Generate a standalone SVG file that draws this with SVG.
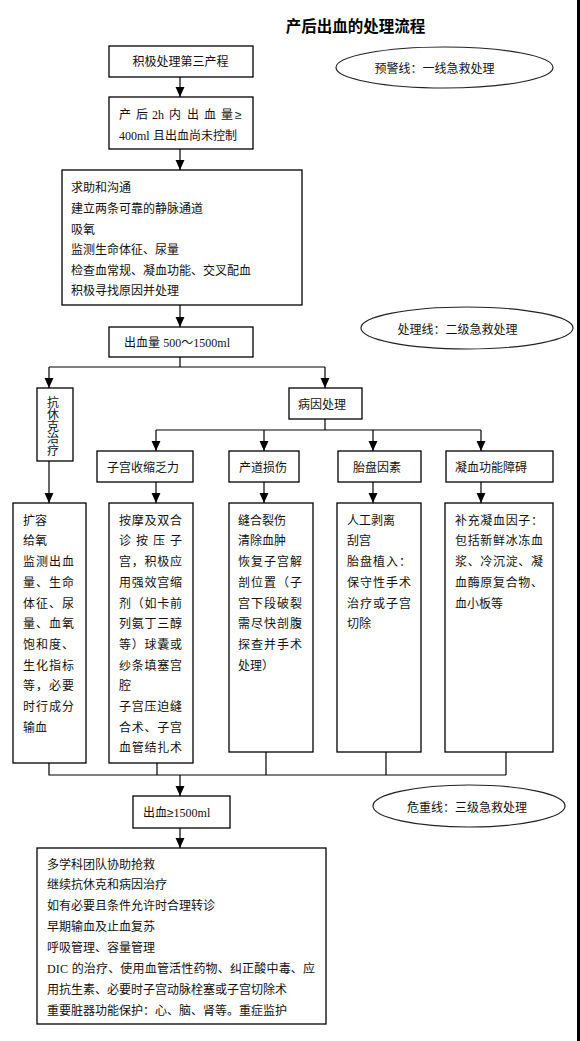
<svg xmlns="http://www.w3.org/2000/svg" width="580" height="1041" viewBox="0 0 580 1041">
<style>
.b{fill:#fff;stroke:#000;stroke-width:1.3}
.e{fill:#fff;stroke:#222;stroke-width:1.2}
.t{font-family:"Liberation Sans","Noto Sans CJK SC",sans-serif;font-size:12px;fill:#111}
.s{font-family:"Liberation Serif","Noto Sans CJK SC",serif}
.ti{font-family:"Noto Sans CJK SC",sans-serif;font-size:15.5px;font-weight:bold;fill:#000}
.c{fill:none;stroke:#000;stroke-width:1.2}
.a{fill:none;stroke:#000;stroke-width:1.2;marker-end:url(#ar)}
</style>
<defs>
<marker id="ar" markerUnits="userSpaceOnUse" markerWidth="10" markerHeight="10" refX="4" refY="9" orient="0" viewBox="0 0 8 9">
<path d="M0,0 L8,0 L4,9 Z" fill="#000"/>
</marker>
</defs>
<rect x="0" y="0" width="580" height="1041" fill="#fff"/>
<rect x="577" y="0" width="3" height="1041" fill="#000"/>
<text class="ti" x="355.5" y="32" text-anchor="middle">产后出血的处理流程</text>

<g id="connectors">
<line class="a" x1="180" y1="77" x2="180" y2="97"/>
<line class="a" x1="180" y1="149" x2="180" y2="170"/>
<line class="a" x1="180" y1="305" x2="180" y2="327"/>
<polyline class="c" points="180,357 180,367"/>
<polyline class="c" points="49,367 325,367"/>
<line class="a" x1="49" y1="367" x2="49" y2="388"/>
<line class="a" x1="325" y1="367" x2="325" y2="388"/>
<polyline class="c" points="325,419 325,430"/>
<polyline class="c" points="156,430 481,430"/>
<line class="a" x1="156" y1="430" x2="156" y2="451"/>
<line class="a" x1="264" y1="430" x2="264" y2="451"/>
<line class="a" x1="373" y1="430" x2="373" y2="451"/>
<line class="a" x1="481" y1="430" x2="481" y2="451"/>
<line class="a" x1="49" y1="461" x2="49" y2="503"/>
<line class="a" x1="156" y1="482" x2="156" y2="503"/>
<line class="a" x1="264" y1="482" x2="264" y2="503"/>
<line class="a" x1="373" y1="482" x2="373" y2="503"/>
<line class="a" x1="481" y1="482" x2="481" y2="503"/>
<polyline class="c" points="49,763 49,775 506,775"/>
<polyline class="c" points="157,763 157,775"/>
<polyline class="c" points="266,752 266,775"/>
<polyline class="c" points="386,752 386,775"/>
<polyline class="c" points="506,752 506,775"/>
<line class="a" x1="180" y1="775" x2="180" y2="796"/>
<line class="a" x1="180" y1="828" x2="180" y2="848"/>
</g>

<g id="n1"><rect class="b" x="109" y="46" width="144" height="31"/>
<text class="t" x="180.5" y="66" text-anchor="middle" font-size="12.5">积极处理第三产程</text></g>

<g id="e1"><ellipse class="e" cx="444.5" cy="67.5" rx="108.5" ry="20.5"/>
<text class="t" x="434.5" y="72.5" text-anchor="middle">预警线：一线急救处理</text></g>

<g id="n2"><rect class="b" x="109" y="97" width="144" height="52"/>
<text class="t" y="119" font-size="12.5"><tspan x="119">产</tspan><tspan x="136">后</tspan><tspan class="s" x="152">2h</tspan><tspan x="169">内</tspan><tspan x="187">出</tspan><tspan x="204">血</tspan><tspan x="221">量</tspan><tspan x="235">≥</tspan></text>
<text class="t" x="119" y="140" font-size="12.5"><tspan class="s">400ml</tspan> 且出血尚未控制</text></g>

<g id="n3"><rect class="b" x="62" y="170" width="240" height="135"/>
<text class="t" x="71" y="191.5">求助和沟通</text>
<text class="t" x="71" y="212.5">建立两条可靠的静脉通道</text>
<text class="t" x="71" y="233.5">吸氧</text>
<text class="t" x="71" y="253.5">监测生命体征、尿量</text>
<text class="t" x="71" y="274.5">检查血常规、凝血功能、交叉配血</text>
<text class="t" x="71" y="294.5">积极寻找原因并处理</text></g>

<g id="n4"><rect class="b" x="109" y="327" width="144" height="30"/>
<text class="t" x="124" y="347" font-size="12.5">出血量 <tspan class="s">500～1500ml</tspan></text></g>

<g id="e2"><ellipse class="e" cx="467" cy="328" rx="106" ry="21"/>
<text class="t" x="457.5" y="333.5" text-anchor="middle">处理线：二级急救处理</text></g>

<g id="n5"><rect class="b" x="37" y="388" width="36" height="73"/>
<text class="t" x="53" y="407" text-anchor="middle" font-size="11.5">抗</text>
<text class="t" x="53" y="419" text-anchor="middle" font-size="11.5">休</text>
<text class="t" x="53" y="431" text-anchor="middle" font-size="11.5">克</text>
<text class="t" x="53" y="443" text-anchor="middle" font-size="11.5">治</text>
<text class="t" x="53" y="455" text-anchor="middle" font-size="11.5">疗</text></g>

<g id="n6"><rect class="b" x="289" y="388" width="73" height="31"/>
<text class="t" x="298" y="408.5">病因处理</text></g>

<g id="n7"><rect class="b" x="97" y="451" width="96" height="31"/>
<text class="t" x="107" y="471.5">子宫收缩乏力</text></g>
<g id="n8"><rect class="b" x="229" y="451" width="70" height="31"/>
<text class="t" x="239" y="471.5">产道损伤</text></g>
<g id="n9"><rect class="b" x="338" y="451" width="83" height="31"/>
<text class="t" x="353" y="471.5">胎盘因素</text></g>
<g id="n10"><rect class="b" x="446" y="451" width="107" height="31"/>
<text class="t" x="455" y="471.5">凝血功能障碍</text></g>

<g id="c1"><rect class="b" x="13" y="503" width="73" height="260"/>
<text class="t" x="23" y="524.7" font-size="12.7">扩容</text>
<text class="t" x="23" y="545.4" font-size="12.7">给氧</text>
<text class="t" x="23" y="566.1" font-size="12.7" textLength="51">监测出血</text>
<text class="t" x="23" y="586.8" font-size="12.7" textLength="51">量、生命</text>
<text class="t" x="23" y="607.5" font-size="12.7" textLength="51">体征、尿</text>
<text class="t" x="23" y="628.2" font-size="12.7" textLength="51">量、血氧</text>
<text class="t" x="23" y="648.9" font-size="12.7" textLength="51">饱和度、</text>
<text class="t" x="23" y="669.6" font-size="12.7" textLength="51">生化指标</text>
<text class="t" x="23" y="690.3" font-size="12.7" textLength="51">等，必要</text>
<text class="t" x="23" y="711.0" font-size="12.7" textLength="51">时行成分</text>
<text class="t" x="23" y="731.7" font-size="12.7">输血</text></g>

<g id="c2"><rect class="b" x="109" y="503" width="84" height="260"/>
<text class="t" x="119" y="524.7" font-size="12.7" textLength="63">按摩及双合</text>
<text class="t" x="119" y="545.4" font-size="12.7" textLength="63">诊 按 压 子</text>
<text class="t" x="119" y="566.1" font-size="12.7" textLength="63">宫，积极应</text>
<text class="t" x="119" y="586.8" font-size="12.7" textLength="63">用强效宫缩</text>
<text class="t" x="119" y="607.5" font-size="12.7" textLength="63">剂（如卡前</text>
<text class="t" x="119" y="628.2" font-size="12.7" textLength="63">列氨丁三醇</text>
<text class="t" x="119" y="648.9" font-size="12.7" textLength="63">等）球囊或</text>
<text class="t" x="119" y="669.6" font-size="12.7" textLength="63">纱条填塞宫</text>
<text class="t" x="119" y="690.3" font-size="12.7">腔</text>
<text class="t" x="119" y="711.0" font-size="12.7" textLength="63">子宫压迫缝</text>
<text class="t" x="119" y="731.7" font-size="12.7" textLength="63">合术、子宫</text>
<text class="t" x="119" y="752.4" font-size="12.7" textLength="63">血管结扎术</text></g>

<g id="c3"><rect class="b" x="229" y="503" width="84" height="249"/>
<text class="t" x="238" y="524.7" font-size="12.7">缝合裂伤</text>
<text class="t" x="238" y="545.4" font-size="12.7">清除血肿</text>
<text class="t" x="238" y="566.1" font-size="12.7" textLength="64">恢复子宫解</text>
<text class="t" x="238" y="586.8" font-size="12.7" textLength="64">剖位置（子</text>
<text class="t" x="238" y="607.5" font-size="12.7" textLength="64">宫下段破裂</text>
<text class="t" x="238" y="628.2" font-size="12.7" textLength="64">需尽快剖腹</text>
<text class="t" x="238" y="648.9" font-size="12.7" textLength="64">探查并手术</text>
<text class="t" x="238" y="669.6" font-size="12.7">处理）</text></g>

<g id="c4"><rect class="b" x="337" y="503" width="84" height="249"/>
<text class="t" x="347" y="524.7" font-size="12.7">人工剥离</text>
<text class="t" x="347" y="545.4" font-size="12.7">刮宫</text>
<text class="t" x="347" y="566.1" font-size="12.7" textLength="64">胎盘植入：</text>
<text class="t" x="347" y="586.8" font-size="12.7" textLength="64">保守性手术</text>
<text class="t" x="347" y="607.5" font-size="12.7" textLength="64">治疗或子宫</text>
<text class="t" x="347" y="628.2" font-size="12.7">切除</text></g>

<g id="c5"><rect class="b" x="445" y="503" width="108" height="249"/>
<text class="t" x="455" y="524.7" font-size="12.5" textLength="88">补充凝血因子：</text>
<text class="t" x="455" y="545.4" font-size="12.5" textLength="88">包括新鲜冰冻血</text>
<text class="t" x="455" y="566.1" font-size="12.5" textLength="88">浆、冷沉淀、凝</text>
<text class="t" x="455" y="586.8" font-size="12.5" textLength="88">血酶原复合物、</text>
<text class="t" x="455" y="607.5" font-size="12.5">血小板等</text></g>

<g id="n11"><rect class="b" x="133" y="796" width="97" height="32"/>
<text class="t" x="143" y="816.5" font-size="12.5">出血≥<tspan class="s">1500ml</tspan></text></g>

<g id="e3"><ellipse class="e" cx="469" cy="806" rx="96" ry="21"/>
<text class="t" x="467" y="811.5" text-anchor="middle">危重线：三级急救处理</text></g>

<g id="n12"><rect class="b" x="37" y="848" width="289" height="176"/>
<text class="t" x="47" y="869">多学科团队协助抢救</text>
<text class="t" x="47" y="889">继续抗休克和病因治疗</text>
<text class="t" x="47" y="910">如有必要且条件允许时合理转诊</text>
<text class="t" x="47" y="931">早期输血及止血复苏</text>
<text class="t" x="47" y="951.5">呼吸管理、容量管理</text>
<text class="t" x="47" y="972.5" textLength="268" lengthAdjust="spacing"><tspan class="s">DIC</tspan> 的治疗、使用血管活性药物、纠正酸中毒、应</text>
<text class="t" x="47" y="993.5">用抗生素、必要时子宫动脉栓塞或子宫切除术</text>
<text class="t" x="47" y="1014.5">重要脏器功能保护：心、脑、肾等。重症监护</text></g>
</svg>
